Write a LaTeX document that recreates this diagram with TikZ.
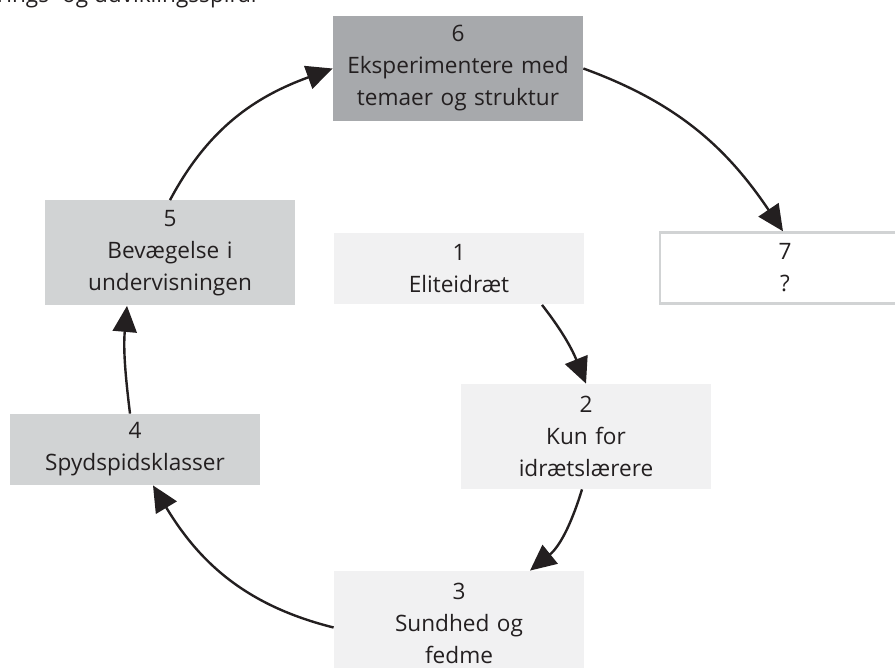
\documentclass[tikz,border=0pt]{standalone}
\usepackage{fontspec}
\setmainfont{Open Sans}
\usetikzlibrary{arrows.meta}
\definecolor{ink}{HTML}{231F20}
\definecolor{darkgrey}{HTML}{A7A9AC}
\definecolor{midgrey}{HTML}{D1D3D4}
\definecolor{lightgrey}{HTML}{F1F1F2}
\tikzset{
    stepbox/.style={minimum width=125pt, text width=122pt, inner sep=0pt, align=center,
        text=ink, font=\fontsize{11.3}{16}\selectfont},
    tallbox/.style={stepbox, minimum height=52.5pt},
    flatbox/.style={stepbox, minimum height=35.5pt},
    flow/.style={draw=ink, line width=1.2pt, -{Triangle[length=13pt,width=12pt]}}
}

\begin{document}
\begin{tikzpicture}[x=0.5pt,y=0.5pt]
    \useasboundingbox (0,0) rectangle (895,-668);

    % Title, cut by the page edge
    \node[anchor=base east, text=ink, font=\fontsize{11.3}{16}\selectfont, inner sep=0pt] (title) at (257,-3) {Lærings- og udviklingsspiral};

    % Boxes
    \node[tallbox, fill=darkgrey] (s6) at (458,-68.5) {6\\Eksperimentere med\\temaer og struktur};
    \node[tallbox, fill=midgrey] (s5) at (170,-253) {5\\Bevægelse i\\undervisningen};
    \node[flatbox, fill=lightgrey] (s1) at (459,-269) {1\\Eliteidræt};
    \node[flatbox, fill=white, draw=midgrey, line width=1.2pt] (s7) at (785,-268) {7\\?};
    \node[tallbox, fill=lightgrey] (s2) at (586,-436.5) {2\\Kun for\\idrætslærere};
    \node[flatbox, fill=midgrey] (s4) at (135,-449.5) {4\\Spydspidsklasser};
    \node[tallbox, fill=lightgrey] (s3) at (459,-623.5) {3\\Sundhed og\\fedme};

    % Arrows
    \draw[flow] ([xshift=41.5pt]s1.south) to[out=-52, in=112] (s2.north);
    \draw[flow] ([xshift=-2pt]s2.south) to[out=-107, in=39] ([xshift=35.5pt]s3.north);
    \draw[flow] ([yshift=-2pt]s3.west) to[out=166, in=-59] ([xshift=9pt]s4.south);
    \draw[flow] ([xshift=-2.5pt]s4.north) to[out=97, in=-95] ([xshift=-21.5pt]s5.south);
    \draw[flow] (s5.north) to[out=62, in=200] (s6.west);
    \draw[flow] (s6.east) to[out=-20, in=124] ([xshift=-1pt]s7.north);
\end{tikzpicture}
\end{document}
